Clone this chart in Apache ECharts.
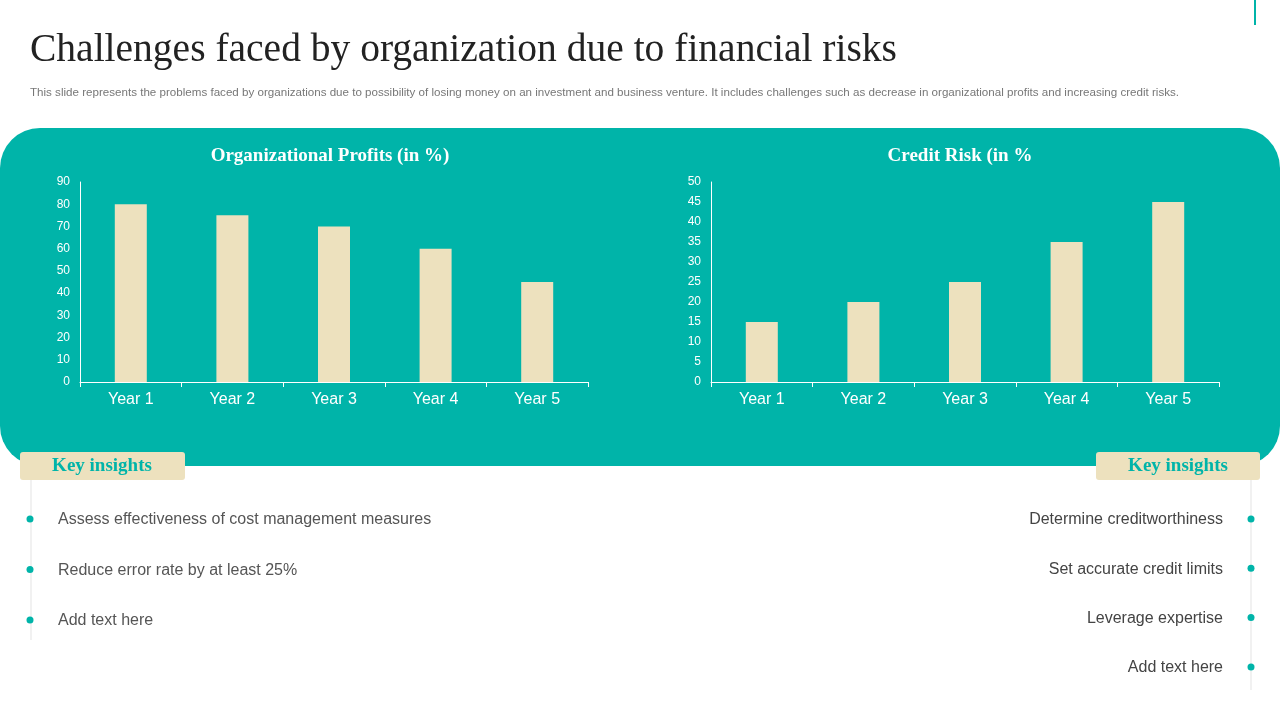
<!DOCTYPE html>
<html><head><meta charset="utf-8">
<script src="https://cdn.jsdelivr.net/npm/echarts@6/dist/echarts.min.js"></script>
<style>html,body{margin:0;padding:0;background:#fff}#c{width:1280px;height:720px}</style>
</head><body><div id="c"></div>
<script>
const categories = ['Year 1','Year 2','Year 3','Year 4','Year 5'];
const profits = [80, 75, 70, 60, 45];
const creditRisk = [15, 20, 25, 35, 45];
const leftInsights = ['Assess effectiveness of cost management measures','Reduce error rate by at least 25%','Add text here'];
const rightInsights = ['Determine creditworthiness','Set accurate credit limits','Leverage expertise','Add text here'];

const teal = '#00B4A9', beige = '#EDE1BE';
const sans = '"Liberation Sans", Arial, sans-serif';
const chart = echarts.init(document.getElementById('c'));
const g = [
  {type:'rect', shape:{x:1254,y:0,width:2,height:25}, style:{fill:teal}},
  {type:'text', left:30, top:31, style:{text:'Challenges faced by organization due to financial risks', font:'39.5px "Liberation Serif", serif', fill:'#222'}},
  {type:'text', left:30, top:87, style:{text:'This slide represents the problems faced by organizations due to possibility of losing money on an investment and business venture. It includes challenges such as decrease in organizational profits and increasing credit risks.', font:'11.6px '+sans, fill:'#777'}},
  {type:'rect', z:-10, shape:{x:0,y:128,width:1280,height:338,r:40}, style:{fill:teal}},
  {type:'rect', shape:{x:20,y:452,width:165,height:28,r:3}, style:{fill:beige}},
  {type:'text', x:102, y:466, style:{text:'Key insights', font:'bold 19px "Liberation Serif", serif', fill:teal, align:'center', verticalAlign:'middle'}},
  {type:'rect', shape:{x:1096,y:452,width:164,height:28,r:3}, style:{fill:beige}},
  {type:'text', x:1178, y:466, style:{text:'Key insights', font:'bold 19px "Liberation Serif", serif', fill:teal, align:'center', verticalAlign:'middle'}},
  {type:'line', shape:{x1:31,y1:480,x2:31,y2:640}, style:{stroke:'#e3e3e3',lineWidth:1}},
  {type:'line', shape:{x1:1251,y1:480,x2:1251,y2:690}, style:{stroke:'#e3e3e3',lineWidth:1}}
];
leftInsights.forEach((t,i)=>{
  const y = 519 + i*50.5;
  g.push({type:'circle', shape:{cx:30,cy:y,r:3.5}, style:{fill:teal}});
  g.push({type:'text', x:58, y:y+1, style:{text:t, font:'16px '+sans, fill:'#555', verticalAlign:'middle'}});
});
rightInsights.forEach((t,i)=>{
  const y = 519 + i*49.3;
  g.push({type:'circle', shape:{cx:1251,cy:y,r:3.5}, style:{fill:teal}});
  g.push({type:'text', x:1223, y:y+1, style:{text:t, font:'16px '+sans, fill:'#444', align:'right', verticalAlign:'middle'}});
});
const axisCommon = (max, interval) => ({type:'value', min:0, max, interval,
  axisLine:{show:true, lineStyle:{color:'#fff'}}, axisTick:{show:false}, splitLine:{show:false},
  axisLabel:{color:'#fff', fontSize:12, fontFamily:sans, margin:10}});
const xCommon = {type:'category', data:categories, axisLine:{lineStyle:{color:'#fff'}},
  axisTick:{show:true, lineStyle:{color:'#fff'}},
  axisLabel:{color:'#fff', fontSize:16, fontFamily:sans, margin:10}};
chart.setOption({
  animation:false,
  title:[
    {text:'Organizational Profits (in %)', left:325, top:142, textAlign:'center', textStyle:{color:'#fff', fontFamily:'"Liberation Serif", serif', fontWeight:'bold', fontSize:19}},
    {text:'Credit Risk (in %', left:955, top:142, textAlign:'center', textStyle:{color:'#fff', fontFamily:'"Liberation Serif", serif', fontWeight:'bold', fontSize:19}}
  ],
  grid:[
    {left:80, width:508, top:182, height:200},
    {left:711, width:508, top:182, height:200}
  ],
  xAxis:[Object.assign({gridIndex:0}, xCommon), Object.assign({gridIndex:1}, xCommon)],
  yAxis:[Object.assign({gridIndex:0}, axisCommon(90,10)), Object.assign({gridIndex:1}, axisCommon(50,5))],
  series:[
    {type:'bar', xAxisIndex:0, yAxisIndex:0, data:profits, barWidth:32, itemStyle:{color:beige}},
    {type:'bar', xAxisIndex:1, yAxisIndex:1, data:creditRisk, barWidth:32, itemStyle:{color:beige}}
  ],
  graphic:g
});
</script></body></html>
